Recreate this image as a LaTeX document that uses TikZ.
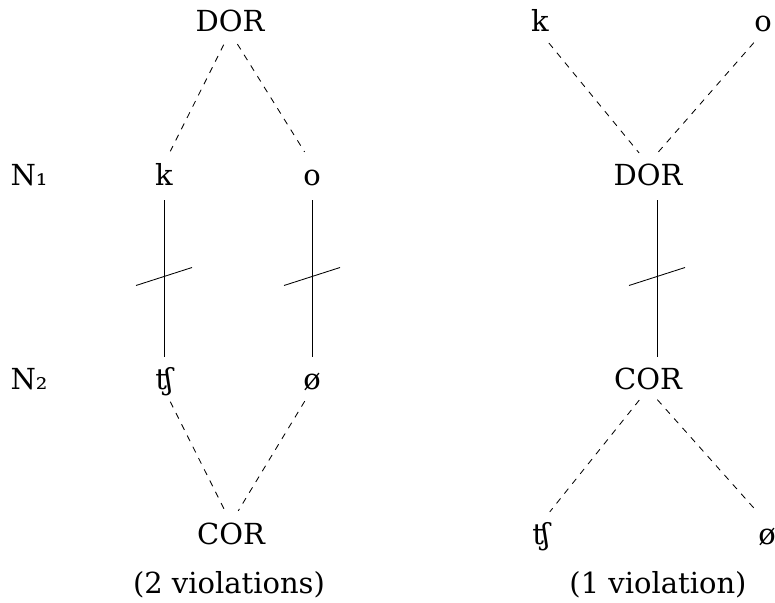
\documentclass[tikz,border=0pt]{standalone}
\usepackage{fontspec}
\setmainfont{DejaVu Serif}
\tikzset{
  seg/.style={inner sep=0pt, text height=21pt, text depth=0pt, anchor=base},
  link/.style={draw, line width=0.85pt, shorten <=15pt, shorten >=11pt},
  assoc/.style={draw, line width=0.85pt, dash pattern=on 6.3pt off 6.3pt,
    shorten <=14pt, shorten >=14pt},
  delink/.style={draw, line width=0.85pt}
}
\begin{document}
\begin{tikzpicture}[x=1pt,y=-1pt,font=\fontsize{29}{35}\selectfont]
        \useasboundingbox (0,0) rectangle (775,602);

        \begin{scope}[every node/.style={seg}]
          % two violations
          \node (dorA) at (230,32)  {DOR};
          \node (kA)   at (164,185) {k};
          \node (oA)   at (312,185) {o};
          \node (chA)  at (164,389) {ʧ};
          \node (oeA)  at (312,389) {ø};
          \node (corA) at (231,544) {COR};
          % one violation
          \node (kB)   at (540,32)  {k};
          \node (oB)   at (763,32)  {o};
          \node (dorB) at (648,185) {DOR};
          \node (corB) at (648,389) {COR};
          \node (chB)  at (541,544) {ʧ};
          \node (oeB)  at (767,544) {ø};
          % tiers and captions
          \node (nOne) at (29,185)  {N₁};
          \node (nTwo) at (29,389)  {N₂};
          \node (capA) at (229,593) {(2 violations)};
          \node (capB) at (658,593) {(1 violation)};
        \end{scope}

        \begin{scope}[every edge/.style={assoc}]
          \path (dorA.south) edge (kA.north);
          \path (dorA.south) edge (oA.north);
          \path (chA.south)  edge (corA.north);
          \path (oeA.south)  edge (corA.north);
          \path (kB.south)   edge (dorB.north);
          \path (oB.south)   edge (dorB.north);
          \path (corB.south) edge (chB.north);
          \path (corB.south) edge (oeB.north);
        \end{scope}

        \begin{scope}[every edge/.style={link}]
          \path (kA.south) edge node[coordinate] (mA) {} (chA.north);
          \path (oA.south) edge node[coordinate] (mB) {} (oeA.north);
          \path ([xshift=9pt]dorB.south) edge node[coordinate] (mC) {}
                ([xshift=9pt]corB.north);
        \end{scope}

        \foreach \m in {mA,mB,mC}
          \path[delink] ([shift={(-28,9)}]\m) -- ([shift={(28,-9)}]\m);

      \end{tikzpicture}
\end{document}
